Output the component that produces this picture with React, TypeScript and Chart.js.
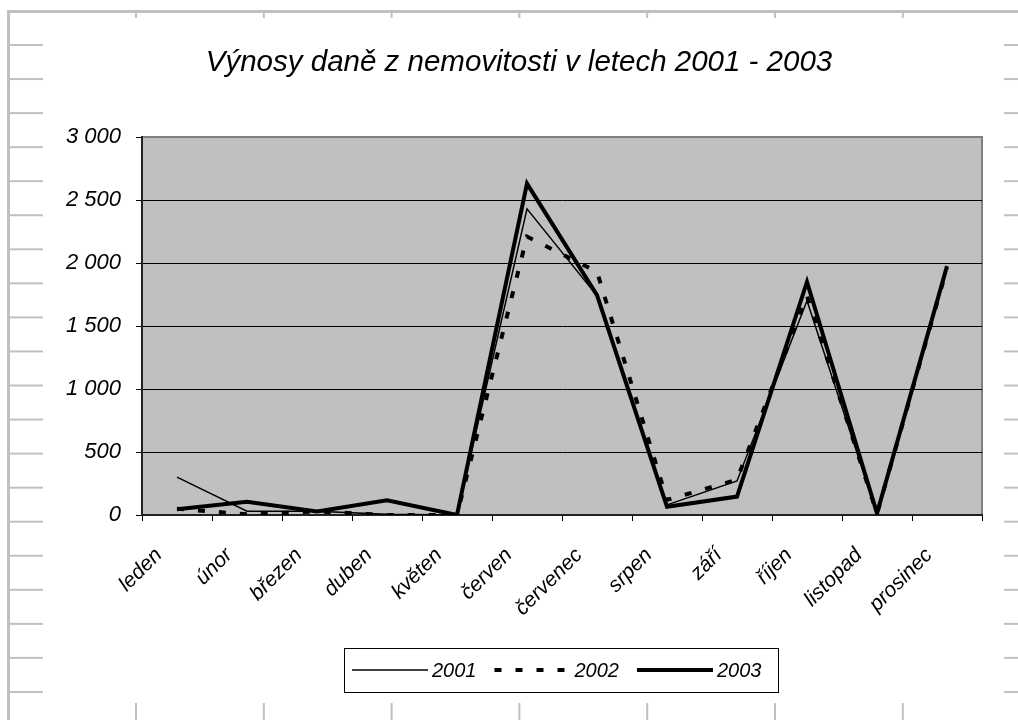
import React, { useEffect, useRef } from "react";
import { Chart, registerables } from "chart.js";

Chart.register(...registerables);

const TITLE = "Výnosy daně z nemovitosti v letech 2001 - 2003";
const MONTHS = ["leden", "únor", "březen", "duben", "květen", "červen", "červenec", "srpen", "září", "říjen", "listopad", "prosinec"];
const SERIES_NAMES = ["2001", "2002", "2003"];
const V2001 = [300, 30, 30, 5, 0, 2430, 1740, 80, 270, 1700, 10, 1965];
const V2002 = [50, 5, 28, 0, 0, 2210, 1930, 120, 280, 1740, 10, 1960];
const V2003 = [45, 105, 27, 117, 0, 2630, 1745, 66, 146, 1850, 13, 1975];
const Y_MIN = 0;
const Y_MAX = 3000;
const Y_STEP = 500;

const FONT = "'Liberation Sans', Arial, sans-serif";

const fmt = (v: number) => String(v).replace(/\B(?=(\d{3})+(?!\d))/g, " ");

const decorPlugin = {
  id: "decor",
  beforeDraw(chart: any) {
    const { ctx, chartArea } = chart;
    ctx.save();
    ctx.fillStyle = "#ffffff";
    ctx.fillRect(0, 0, chart.width, chart.height);
    // frame of the sheet / chart object
    ctx.fillStyle = "#c0c0c0";
    ctx.fillRect(7, 10, chart.width - 7, 3);
    ctx.fillRect(7, 10, 3, chart.height - 10);
    for (let k = 0; k < 20; k++) {
      const y = 44 + 34.05 * k;
      ctx.fillRect(10, y, 33, 2);
      ctx.fillRect(1004, y, 14, 2);
    }
    for (let k = 0; k < 7; k++) {
      const x = 135 + 127.8 * k;
      ctx.fillRect(x, 13, 2, 5);
      ctx.fillRect(x, 703, 2, 17);
    }
    // plot area
    ctx.fillStyle = "#c0c0c0";
    ctx.fillRect(chartArea.left, chartArea.top, chartArea.right - chartArea.left, chartArea.bottom - chartArea.top);
    ctx.strokeStyle = "#808080";
    ctx.lineWidth = 2;
    ctx.strokeRect(chartArea.left, chartArea.top, chartArea.right - chartArea.left, chartArea.bottom - chartArea.top);
    ctx.restore();
  },
  afterDraw(chart: any) {
    const { ctx } = chart;
    ctx.save();
    // title
    ctx.fillStyle = "#000";
    ctx.font = `italic 29.5px ${FONT}`;
    ctx.textAlign = "center";
    ctx.textBaseline = "middle";
    ctx.fillText(TITLE, 519, 63);
    // legend
    const bx = 344, by = 648, bw = 434, bh = 44;
    ctx.fillStyle = "#fff";
    ctx.fillRect(bx, by, bw, bh);
    ctx.strokeStyle = "#000";
    ctx.lineWidth = 1;
    ctx.strokeRect(bx + 0.5, by + 0.5, bw, bh);
    ctx.font = `italic 20px ${FONT}`;
    ctx.textAlign = "left";
    ctx.textBaseline = "middle";
    let x = 352;
    const cy = by + bh / 2;
    chart.data.datasets.forEach((ds: any) => {
      ctx.save();
      ctx.strokeStyle = ds.borderColor;
      ctx.lineWidth = ds.borderWidth;
      ctx.setLineDash(ds.borderDash || []);
      ctx.lineCap = "butt";
      ctx.beginPath();
      ctx.moveTo(x, cy);
      ctx.lineTo(x + 76, cy);
      ctx.stroke();
      ctx.restore();
      ctx.fillStyle = "#000";
      ctx.fillText(ds.label, x + 80, cy + 1);
      x += 80 + ctx.measureText(ds.label).width + 18;
    });
    ctx.restore();
  },
};

export default function App() {
  const ref = useRef<HTMLCanvasElement | null>(null);
  useEffect(() => {
    if (!ref.current) return;
    Chart.defaults.font.family = FONT;
    const chart = new Chart(ref.current, {
      type: "line",
      data: {
        labels: MONTHS,
        datasets: [
          { label: SERIES_NAMES[0], data: V2001, borderColor: "#000", borderWidth: 1.5, pointRadius: 0, tension: 0, fill: false },
          { label: SERIES_NAMES[1], data: V2002, borderColor: "#000", borderWidth: 4, borderDash: [7, 14], pointRadius: 0, tension: 0, fill: false },
          { label: SERIES_NAMES[2], data: V2003, borderColor: "#000", borderWidth: 4, pointRadius: 0, tension: 0, fill: false },
        ],
      },
      options: {
        animation: false,
        responsive: false,
        layout: { padding: { left: 0, right: 36, top: 137, bottom: 0 } },
        plugins: { legend: { display: false }, title: { display: false }, tooltip: { enabled: false } },
        scales: {
          x: {
            type: "category",
            offset: true,
            grid: { display: true, drawOnChartArea: false, drawTicks: true, tickLength: 6, offset: true, tickColor: "#000", tickWidth: 1 },
            border: { display: true, color: "#222", width: 2 },
            ticks: {
              color: "#000",
              font: { size: 21, style: "italic", family: FONT },
              maxRotation: 45,
              minRotation: 45,
              autoSkip: false,
              padding: 22,
              labelOffset: -18,
            },
            afterFit: (scale: any) => { scale.height = 205; },
          },
          y: {
            min: Y_MIN,
            max: Y_MAX,
            grid: {
              color: (c: any) => (c.tick && c.tick.value === Y_MAX ? "rgba(0,0,0,0)" : "#000"),
              lineWidth: 1,
              tickLength: 6,
              tickColor: "#000",
            },
            border: { display: true, color: "#222", width: 2 },
            ticks: {
              stepSize: Y_STEP,
              color: "#000",
              padding: 15,
              font: { size: 22, style: "italic", family: FONT },
              callback: (v: any) => fmt(Number(v)),
            },
            afterFit: (scale: any) => { scale.width = 142; },
          },
        },
      },
      plugins: [decorPlugin],
    });
    return () => chart.destroy();
  }, []);
  return (
    <div style={{ position: "absolute", left: 0, top: 0, width: 1018, height: 720 }}>
      <canvas ref={ref} width={1018} height={720} style={{ display: "block" }} />
    </div>
  );
}
